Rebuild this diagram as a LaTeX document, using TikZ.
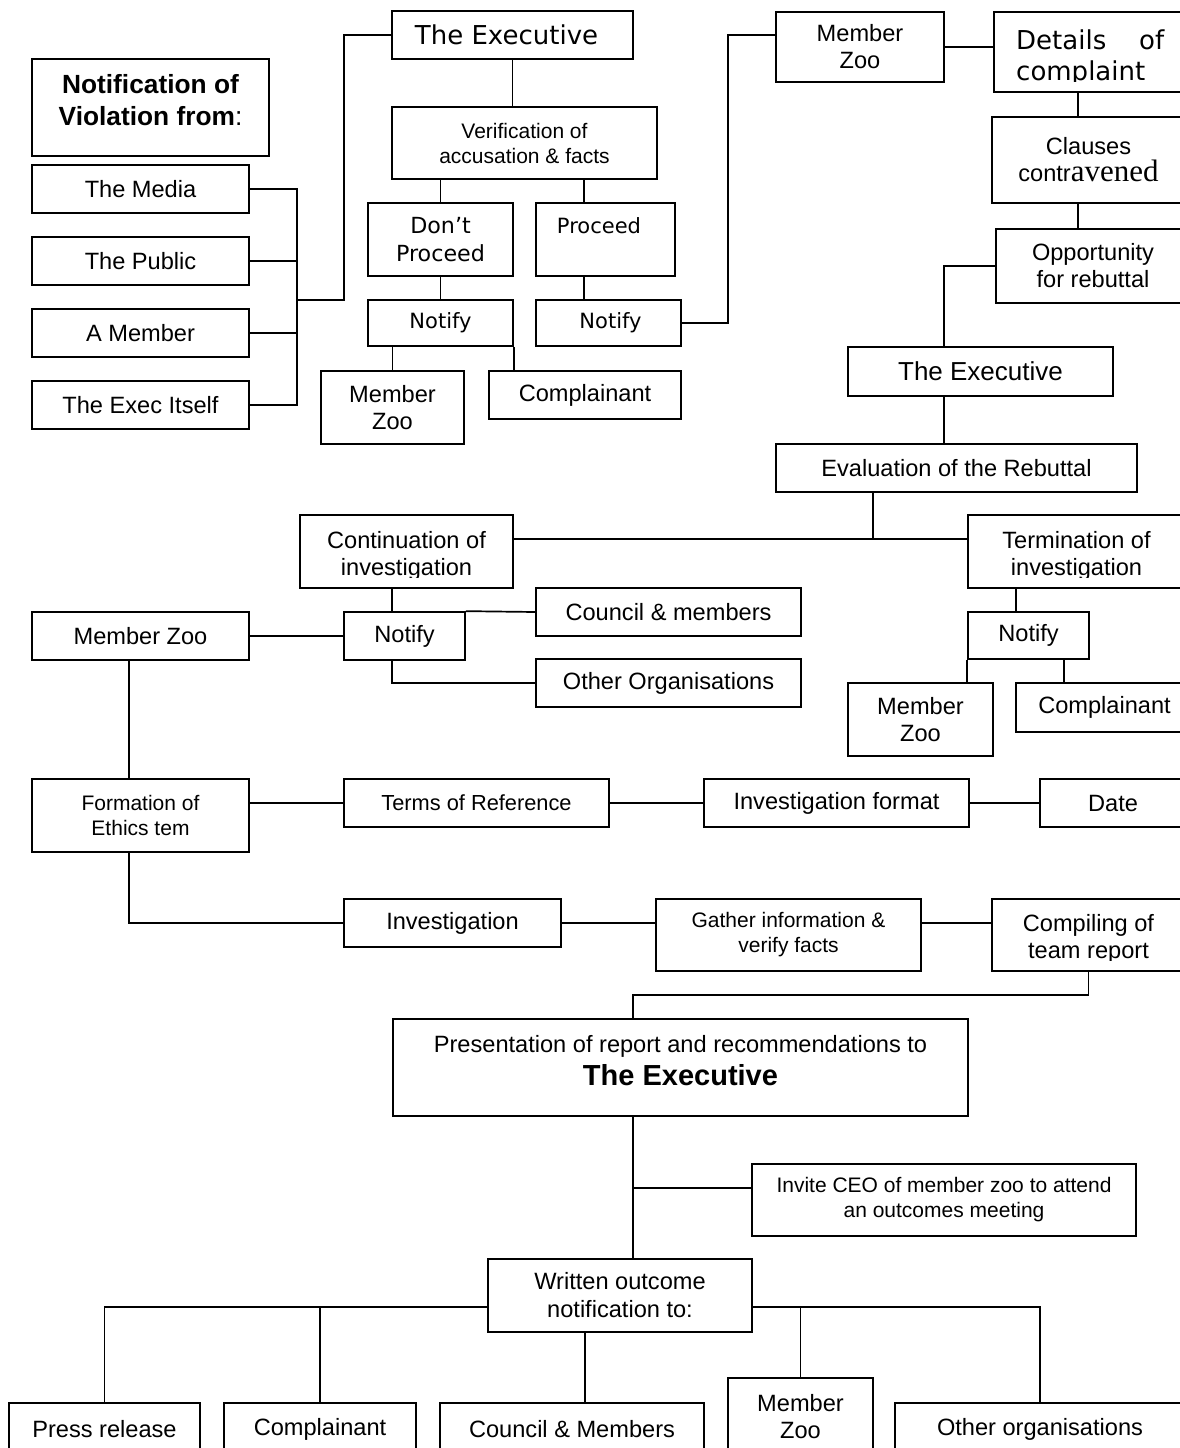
\documentclass[tikz,border=0pt]{standalone}
\usepackage{fontspec}
\setmainfont{Liberation Sans}
\newfontfamily\vfont{DejaVu Sans}
\newfontfamily\serfont{Liberation Serif}
\newcommand\mybox[7][]{%
  \pgfmathsetmacro\mybw{#5-#3}\pgfmathsetmacro\mybh{#6-#4}%
  \pgfmathsetmacro\mycx{(#3+#5)/2}\pgfmathsetmacro\mycy{(#4+#6)/2}%
  \node[bx, minimum width=\mybw pt, minimum height=\mybh pt, #1] (#2) at (\mycx,\mycy) {#7};}
\newcommand\myclipbox[8][]{%
  \mybox{#2}{#3}{#4}{#5}{#6}{}%
  \begin{scope}\clip (#3,#4) rectangle (#5,#7);
  \node[bx, draw=none, #1] (#2t) at (\mycx,\mycy) {#8};
  \end{scope}}
\begin{document}
\begin{tikzpicture}[x=1pt,y=-1pt,
  bx/.style={draw, line width=1.7pt, inner sep=0pt, align=center, font=\fontsize{23.6}{27}\selectfont},
  small/.style={font=\fontsize{21}{25}\selectfont},
  verd/.style={font=\vfont\fontsize{21}{28}\selectfont},
  ln/.style={line width=1.7pt}]
\useasboundingbox (0,0) rectangle (1180,1448);
\clip (0,0) rectangle (1180,1448);
\fill[white] (0,0) rectangle (1180,1448);

% ---- left column: sources
\mybox[font=\fontsize{26.3}{32}\selectfont]{notif}{32}{59}{269}{156}{\textbf{Notification of}\\\textbf{Violation from}:\\[-16pt]}
\mybox{media}{32}{165}{249}{213}{The Media}
\mybox{public}{32}{237}{249}{285}{The Public}
\mybox{amember}{32}{309}{249}{357}{A Member}
\mybox{execself}{32}{381}{249}{429}{The Exec Itself}

% ---- top middle
\mybox[font=\vfont\fontsize{26}{30}\selectfont]{exec1}{392}{11}{633}{59}{The Executive\kern12pt}
\mybox[small]{verif}{392}{107}{657}{179}{Verification of\\accusation \& facts}
\mybox[font=\vfont\fontsize{22.2}{28}\selectfont]{dontp}{368}{203}{513}{276}{Don’t\\Proceed}
\mybox[verd]{proc}{536}{203}{675}{276}{Proceed\kern13pt\\~}
\mybox[verd]{notify1}{368}{300}{513}{346}{Notify}
\mybox[verd]{notify2}{536}{300}{681}{346}{\kern4pt Notify}
\mybox{mzoo1}{321}{371}{464}{444}{Member\\Zoo}
\mybox{compl1}{489}{371}{681}{419}{Complainant}

% ---- top right
\mybox{mzoo2}{776}{12}{944}{82}{Member\\Zoo}
\mybox{details}{994}{12}{1190}{92}{}
\begin{scope}
\clip (994,12) rectangle (1190,81);
\node[inner sep=0pt, anchor=north west, text width=148pt, align=left, font=\vfont\fontsize{26}{31}\selectfont] (detailst) at (1016,30) {Details\hfill of\\complaint};
\end{scope}
\mybox{clauses}{992}{117}{1185}{203}{Clauses\\contr{\serfont\fontsize{31}{31}\selectfont avened}}
\mybox{opp}{996}{229}{1190}{303}{Opportunity\\for rebuttal}
\mybox[font=\fontsize{26}{30}\selectfont]{exec2}{848}{347}{1113}{396}{The Executive}
\mybox{eval}{776}{444}{1137}{492}{Evaluation of the Rebuttal}

% ---- middle
\myclipbox[yshift=-4pt]{cont}{300}{515}{513}{588}{577}{Continuation of\\investigation}
\myclipbox[yshift=-4pt]{term}{968}{515}{1185}{588}{577}{Termination of\\investigation}
\mybox{mzoo3}{32}{612}{249}{660}{Member Zoo}
\mybox{notify3}{344}{612}{465}{660}{Notify}
\mybox{council1}{536}{588}{801}{636}{Council \& members}
\mybox{other1}{536}{659}{801}{707}{Other Organisations}
\mybox{notify4}{968}{612}{1089}{659}{Notify}
\mybox{mzoo5}{848}{683}{993}{756}{Member\\Zoo}
\mybox{compl3}{1016}{683}{1193}{732}{Complainant}

\mybox[small]{form}{32}{779}{249}{852}{Formation of\\Ethics tem}
\mybox[font=\fontsize{21.8}{25}\selectfont]{terms}{344}{779}{609}{827}{Terms of Reference}
\mybox{invfmt}{704}{779}{969}{827}{Investigation format}
\mybox{date}{1040}{779}{1186}{827}{Date}

\mybox{inv}{344}{899}{561}{947}{Investigation}
\mybox[small]{gather}{656}{899}{921}{971}{Gather information \&\\verify facts}
\myclipbox[yshift=-4pt]{comp}{992}{899}{1185}{971}{960}{Compiling of\\team report}

\mybox[font=\fontsize{23.6}{33}\selectfont]{pres}{393}{1019}{968}{1116}{Presentation of report and recommendations to\\{\fontsize{29}{33}\selectfont\bfseries The Executive}\\[-19pt]}
\mybox[small]{invite}{752}{1164}{1136}{1236}{Invite CEO of member zoo to attend\\an outcomes meeting}
\mybox[font=\fontsize{23.6}{28}\selectfont]{written}{488}{1259}{752}{1332}{Written outcome\\notification to:}

\mybox{press}{9}{1403}{200}{1455}{Press release}
\mybox{compl2}{224}{1403}{416}{1455}{Complainant}
\mybox{council2}{440}{1403}{704}{1455}{Council \& Members}
\mybox{mzoo4}{728}{1378}{873}{1455}{Member\\Zoo}
\mybox{other2}{895}{1403}{1185}{1455}{Other organisations}

% ---- junction coordinates
\coordinate (bus) at (297,300);
\coordinate (b2) at (344,300);
\coordinate (x584) at (584,0);
\coordinate (j3) at (728,35);
\coordinate (xa) at (1078,0);
\coordinate (j4) at (944,266);
\coordinate (j5) at (873,539);
\coordinate (j6) at (392,683);
\coordinate (j7) at (129,0);
\coordinate (j8) at (633,995);
\coordinate (j9) at (633,1188);
\coordinate (j11) at (1016,0);
\coordinate (j12) at (1064,0);
\coordinate (wl) at (488,1307);
\coordinate (wr) at (752,1307);
\coordinate (x585) at (585,0);

% ---- connectors
\draw[ln] (media.east) -| (bus);
\draw[ln] (public.east) -| (bus);
\draw[ln] (amember.east) -| (bus);
\draw[ln] (execself.east) -| (bus);
\draw[ln] (bus) -- (b2) |- (exec1.west);
\draw[ln] (exec1.south) -- (exec1.south |- verif.north);
\draw[ln] (verif.south -| dontp.north) -- (dontp.north);
\draw[ln] (verif.south -| x584) -- (proc.north -| x584);
\draw[ln] (dontp.south) -- (notify1.north);
\draw[ln] (proc.south -| x584) -- (notify2.north -| x584);
\draw[ln] (notify1.south -| mzoo1.north) -- (mzoo1.north);
\draw[ln] (notify1.south east) -- (notify1.south east |- compl1.north);
\draw[ln] (notify2.east) -| (j3) -- (j3 -| mzoo2.west);
\draw[ln] (mzoo2.east) -- (mzoo2.east -| details.west);
\draw[ln] (details.south -| xa) -- (clauses.north -| xa);
\draw[ln] (clauses.south -| xa) -- (opp.north -| xa);
\draw[ln] (opp.west) -| (exec2.north -| j4);
\draw[ln] (exec2.south -| j4) -- (eval.north -| j4);
\draw[ln] (eval.south -| j5) -- (j5);
\draw[ln] (cont.east |- j5) -- (term.west |- j5);
\draw[ln] (cont.south -| j6) -- (notify3.north -| j6);
\draw[ln] (notify3.south -| j6) |- (other1.west);
\draw[ln] (notify3.north east) -- (council1.west);
\draw[ln] (mzoo3.east) -- (notify3.west);
\draw[ln] (term.south -| j11) -- (notify4.north -| j11);
\draw[ln] (notify4.south west) -- (notify4.south west |- mzoo5.north);
\draw[ln] (notify4.south -| j12) -- (compl3.north -| j12);
\draw[ln] (mzoo3.south -| j7) -- (form.north -| j7);
\draw[ln] (form.east |- terms.west) -- (terms.west);
\draw[ln] (terms.east) -- (invfmt.west);
\draw[ln] (invfmt.east) -- (date.west);
\draw[ln] (form.south -| j7) |- (inv.west);
\draw[ln] (inv.east) -- (inv.east -| gather.west);
\draw[ln] (gather.east |- inv.east) -- (comp.west |- inv.east);
\draw[ln] (comp.south) |- (j8) -- (pres.north -| j8);
\draw[ln] (pres.south -| j9) -- (written.north -| j9);
\draw[ln] (j9) -- (invite.west |- j9);
\draw[ln] (wl) -| (press.north);
\draw[ln] (compl2.north) -- (compl2.north |- wl);
\draw[ln] (written.south -| x585) -- (council2.north -| x585);
\draw[ln] (mzoo4.north) -- (mzoo4.north |- wr);
\draw[ln] (wr) -| (other2.north);
\end{tikzpicture}
\end{document}
